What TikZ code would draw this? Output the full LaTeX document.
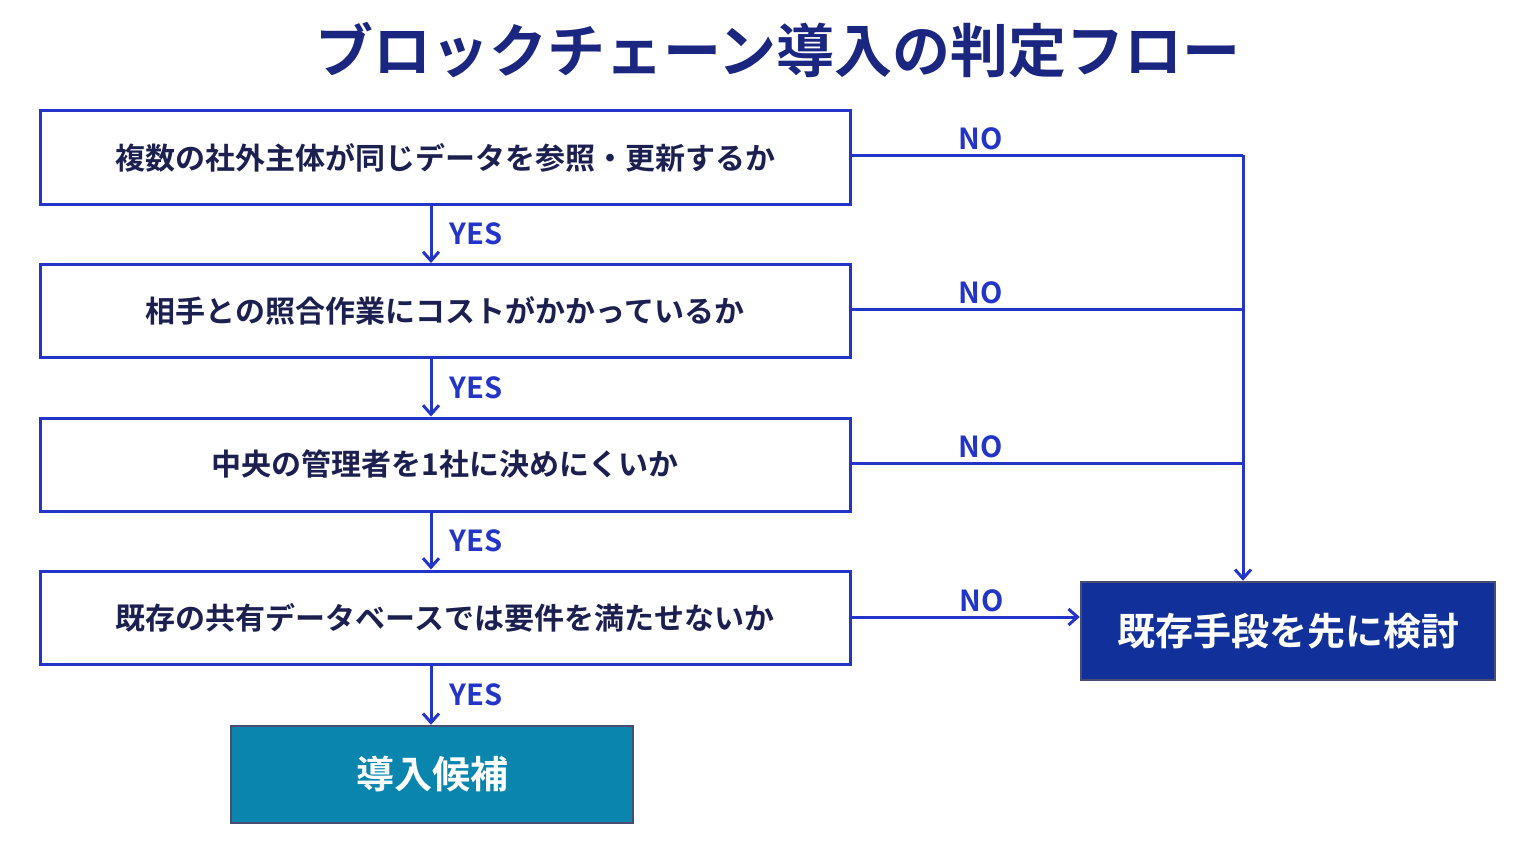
\documentclass[tikz,border=0pt]{standalone}
\usepackage{fontspec}
\setmainfont{Noto Sans CJK JP}[BoldFont={Noto Sans CJK JP Bold}]
\usetikzlibrary{positioning, arrows.meta}
\definecolor{navy}{RGB}{26,38,128}
\definecolor{line}{RGB}{34,53,200}
\definecolor{ink}{RGB}{28,32,80}
\definecolor{teal}{RGB}{10,134,174}
\definecolor{deep}{RGB}{18,48,154}
\tikzset{>={Straight Barb[length=9pt, width=16pt, line width=3pt]}}
\begin{document}
\begin{tikzpicture}[x=1pt, y=-1pt,
    q/.style={draw=line, line width=3pt, minimum width=810pt, minimum height=93pt, font=\fontsize{30}{34}\selectfont\bfseries, text=ink},
    res/.style={draw=ink!80, line width=2.5pt, text=white, font=\fontsize{38}{42}\selectfont\bfseries},
    lbl/.style={text=line, font=\fontsize{29}{32}\selectfont\bfseries},
    conn/.style={draw=line, line width=3pt},
    arr/.style={conn, ->}]
  \useasboundingbox (0,0) rectangle (1536,864);

  \node[text=navy, font=\fontsize{58}{62}\selectfont\bfseries] (T) at (778,50) {ブロックチェーン導入の判定フロー};

  \node[q] (Q1) at (445,157.5) {複数の社外主体が同じデータを参照・更新するか};
  \node[q] (Q2) at (445,311) {相手との照合作業にコストがかかっているか};
  \node[q] (Q3) at (445,464.5) {中央の管理者を1社に決めにくいか};
  \node[q] (Q4) at (445,617.5) {既存の共有データベースでは要件を満たせないか};
  \node[res, fill=teal, minimum width=402pt, minimum height=97pt] (YES) at (432,774.5) {導入候補};
  \node[res, fill=deep, minimum width=414pt, minimum height=98pt] (NOB) at (1288,631) {既存手段を先に検討};

  % YES path
  \draw[arr] (Q1.south -| 431,0) -- node[lbl, right=14pt]{YES} (Q2.north -| 431,0);
  \draw[arr] (Q2.south -| 431,0) -- node[lbl, right=14pt]{YES} (Q3.north -| 431,0);
  \draw[arr] (Q3.south -| 431,0) -- node[lbl, right=14pt]{YES} (Q4.north -| 431,0);
  \draw[arr] (Q4.south -| 431,0) -- node[lbl, right=14pt]{YES} (YES.north -| 431,0);

  % NO path
  \coordinate (J1) at (1243,155);
  \coordinate (J2) at (1243,309);
  \coordinate (J3) at (1243,463);
  \draw[conn] (Q1.east |- J1) -- node[lbl, above=0pt, pos=0.33]{NO} (J1);
  \draw[conn] (Q2.east |- J2) -- node[lbl, above=0pt, pos=0.33]{NO} (J2);
  \draw[conn] (Q3.east |- J3) -- node[lbl, above=0pt, pos=0.33]{NO} (J3);
  \draw[arr] (J1) -- (NOB.north -| J1);
  \draw[arr] (Q4.east |- 0,617) -- node[lbl, above=0pt, pos=0.57]{NO} (NOB.west |- 0,617);
\end{tikzpicture}
\end{document}
